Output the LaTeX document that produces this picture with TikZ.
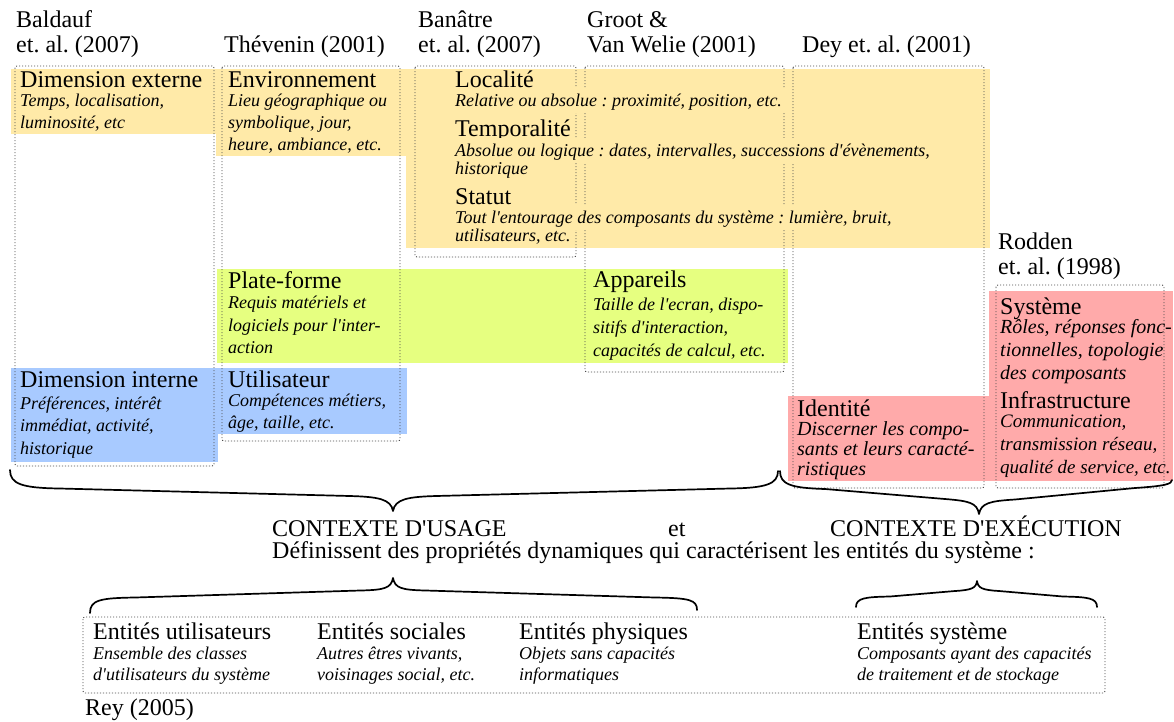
\documentclass[tikz,border=0pt]{standalone}
\usepackage{fontspec}
\setmainfont{Liberation Serif}
\frenchspacing
\newcommand{\aq}{\textquotesingle}
\definecolor{cyel}{RGB}{255,234,168}
\definecolor{cgrn}{RGB}{230,255,128}
\definecolor{cblu}{RGB}{168,202,255}
\definecolor{cred}{RGB}{255,170,170}
\tikzset{
  txt/.style={anchor=base west, inner sep=0pt},
  hd/.style={txt, font=\fontsize{24}{24}\selectfont},
  it/.style={txt, font=\fontsize{18}{18}\selectfont\itshape},
  itb/.style={txt, font=\fontsize{20}{20}\selectfont\itshape},
  itc/.style={txt, font=\fontsize{19}{19}\selectfont\itshape},
  its/.style={txt, font=\fontsize{18}{18}\selectfont\itshape},
  itfill/.style={it, fill=cyel, inner xsep=3pt, text height=18pt, text depth=7pt},
  dotbox/.style={draw=black!70, line width=0.9pt, dash pattern=on 1.1pt off 1.9pt, rounded corners=2pt},
  bracestyle/.style={draw=black, line width=1.7pt, line cap=round, line join=round}
}
\begin{document}
\begin{tikzpicture}[x=1pt,y=-1pt]
\useasboundingbox (0,0) rectangle (1174,721);
\fill[white] (0,0) rectangle (1174,721);
% colour fills
\fill[cyel] (11,69) rectangle (216.5,134);
\fill[cyel] (216,69) rectangle (406.5,156);
\fill[cyel] (406,69) rectangle (990,248);
\fill[cgrn] (217,269) rectangle (788,363);
\fill[cblu] (11,368) rectangle (217.5,462);
\fill[cblu] (217,368) rectangle (407,434);
\fill[cred] (788,396) rectangle (989.5,481);
\fill[cred] (989,291) rectangle (1173,481);
% dotted source boxes
\draw[dotbox] (15,66) rectangle (214,466);
\draw[dotbox] (222,66) rectangle (400,441);
\draw[dotbox] (415,66) rectangle (576,257);
\draw[dotbox] (585,66) rectangle (784,372);
\draw[dotbox] (793,66) rectangle (984,488);
\draw[dotbox] (996,285) rectangle (1164,488);
\draw[dotbox] (83,617) rectangle (1105,693);
% top labels
\node[hd] (bald1) at (16,27) {Baldauf};
\node[hd] (bald2) at (16,52) {et. al. (2007)};
\node[hd] (thev) at (224,52) {Thévenin (2001)};
\node[hd] (ban1) at (418,27) {Banâtre};
\node[hd] (ban2) at (418,52) {et. al. (2007)};
\node[hd] (groot1) at (587,27) {Groot \&};
\node[hd] (groot2) at (587,52) {Van Welie (2001)};
\node[hd] (dey) at (802,52) {Dey et. al. (2001)};
\node[hd] (rod1) at (998,249) {Rodden};
\node[hd] (rod2) at (998,274) {et. al. (1998)};
% Baldauf externe
\node[hd] (dext) at (20,87) {Dimension externe};
\node[it] (dext1) at (20,106) {Temps, localisation,};
\node[it] (dext2) at (20,128) {luminosité, etc};
% Thevenin environnement
\node[hd] (env) at (228,87) {Environnement};
\node[it] (env1) at (228,106) {Lieu géographique ou};
\node[it] (env2) at (228,128) {symbolique, jour,};
\node[it] (env3) at (228,150) {heure, ambiance, etc.};
% Banatre
\node[hd] (loc) at (455,87) {Localité};
\node[itfill] (loc1) at (452,106) {Relative ou absolue : proximité, position, etc.};
\node[hd] (tmp) at (455,136) {Temporalité};
\node[itfill] (tmp1) at (452,156) {Absolue ou logique : dates, intervalles, successions d\aq évènements,};
\node[it] (tmp2) at (455,174) {historique};
\node[hd] (sta) at (455,204) {Statut};
\node[itfill] (sta1) at (452,223) {Tout l\aq entourage des composants du système : lumière, bruit,};
\node[it] (sta2) at (455,241) {utilisateurs, etc.};
% Plate-forme
\node[hd] (pf) at (228,288) {Plate-forme};
\node[it] (pf1) at (228,308) {Requis matériels et};
\node[it] (pf2) at (228,331) {logiciels pour l\aq inter-};
\node[it] (pf3) at (228,353) {action};
% Appareils
\node[hd] (app) at (593,287) {Appareils};
\node[it] (app1) at (593,310) {Taille de l\aq ecran, dispo-};
\node[it] (app2) at (593,333) {sitifs d\aq interaction,};
\node[it] (app3) at (593,356) {capacités de calcul, etc.};
% Dimension interne
\node[hd] (dint) at (20,387) {Dimension interne};
\node[it] (dint1) at (20,409) {Préférences, intérêt};
\node[it] (dint2) at (20,431) {immédiat, activité,};
\node[it] (dint3) at (20,454) {historique};
% Utilisateur
\node[hd] (uti) at (228,387) {Utilisateur};
\node[it] (uti1) at (228,406) {Compétences métiers,};
\node[it] (uti2) at (228,428) {âge, taille, etc.};
% Identite
\node[hd] (ide) at (797,416) {Identité};
\node[itb] (ide1) at (797,435) {Discerner les compo-};
\node[itb] (ide2) at (797,455) {sants et leurs caracté-};
\node[itb] (ide3) at (797,475) {ristiques};
% Systeme
\node[hd] (sys) at (1000,314) {Système};
\node[itb] (sys1) at (1000,333) {Rôles, réponses fonc-};
\node[itb] (sys2) at (1000,356) {tionnelles, topologie};
\node[itb] (sys3) at (1000,379) {des composants};
\node[hd] (inf) at (1000,408) {Infrastructure};
\node[itc] (inf1) at (1000,427) {Communication,};
\node[itc] (inf2) at (1000,450) {transmission réseau,};
\node[itc] (inf3) at (1000,473) {qualité de service, etc.};
% braces
\draw[bracestyle] (10,470) .. controls (10,484) and (22,488) .. (60,488.5) -- (350,496)
  .. controls (378,496.8) and (391,499) .. (393,511)
  .. controls (395,499) and (408,496.8) .. (436,496) -- (730,488.5)
  .. controls (766,488) and (778,484) .. (778,471);
\draw[bracestyle] (780,471) .. controls (780,484) and (790,488) .. (825,489) -- (945,499)
  .. controls (970,501) and (977,503) .. (979,514)
  .. controls (981,503) and (990,501) .. (1015,499.5) -- (1135,488)
  .. controls (1165,486) and (1172,484) .. (1172,480);
\draw[bracestyle] (90,613) .. controls (90,600) and (100,598) .. (135,597.5) -- (360,590.5)
  .. controls (385,590) and (391,588) .. (393,578)
  .. controls (395,588) and (401,590) .. (426,590.5) -- (655,597.5)
  .. controls (690,598) and (697,600) .. (697,610);
\draw[bracestyle] (856,607) .. controls (856,598) and (865,597) .. (890,596.5) -- (955,591)
  .. controls (972,590) and (976,588) .. (977,581)
  .. controls (978,588) and (982,590) .. (999,591) -- (1063,596.5)
  .. controls (1088,597) and (1097,598) .. (1097,607);
% context text
\node[hd] (ctxu) at (272,536) {CONTEXTE D\aq USAGE};
\node[hd] (et) at (668,536) {et};
\node[hd] (ctxe) at (830,536) {CONTEXTE D\aq EXÉCUTION};
\node[hd] (def) at (272,558) {Définissent des propriétés dynamiques qui caractérisent les entités du système :};
% Rey entities
\node[hd] (eu) at (93,639) {Entités utilisateurs};
\node[its] (eu1) at (93,659) {Ensemble des classes};
\node[its] (eu2) at (93,680) {d\aq utilisateurs du système};
\node[hd] (es) at (317,639) {Entités sociales};
\node[its] (es1) at (317,659) {Autres êtres vivants,};
\node[its] (es2) at (317,680) {voisinages social, etc.};
\node[hd] (ep) at (519,639) {Entités physiques};
\node[its] (ep1) at (519,659) {Objets sans capacités};
\node[its] (ep2) at (519,680) {informatiques};
\node[hd] (esy) at (857,639) {Entités système};
\node[its] (esy1) at (857,659) {Composants ayant des capacités};
\node[its] (esy2) at (857,680) {de traitement et de stockage};
\node[hd] (rey) at (85,715) {Rey (2005)};
\end{tikzpicture}
\end{document}
